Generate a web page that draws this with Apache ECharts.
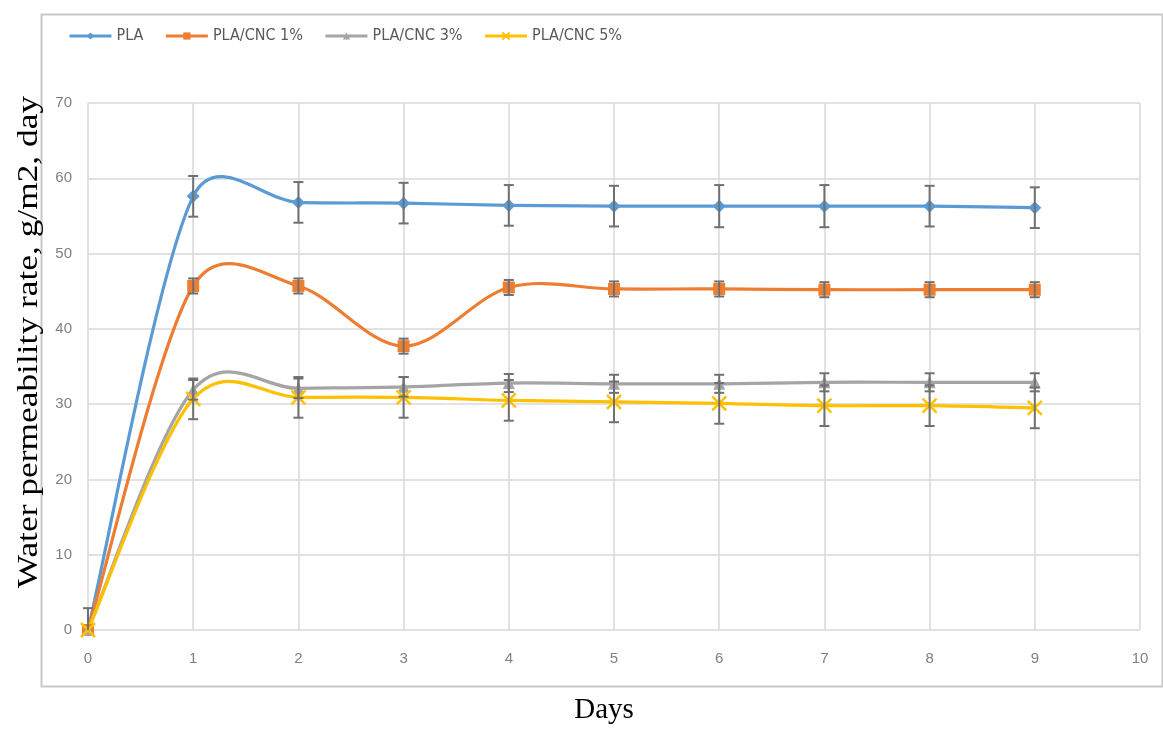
<!DOCTYPE html>
<html><head><meta charset="utf-8">
<script src="https://cdn.jsdelivr.net/npm/echarts@6/dist/echarts.min.js"></script>
<style>html,body{margin:0;padding:0;background:#fff}#c{width:1163px;height:730px}</style>
</head><body><div id="c"></div>
<script>
const days = [0,1,2,3,4,5,6,7,8,9];
const seriesNames = ['PLA','PLA/CNC 1%','PLA/CNC 3%','PLA/CNC 5%'];
const pla    = [0, 57.6, 56.8, 56.7, 56.4, 56.3, 56.3, 56.3, 56.3, 56.1];
const cnc1   = [0, 45.7, 45.7, 37.7, 45.5, 45.3, 45.3, 45.2, 45.2, 45.2];
const cnc3   = [0, 31.9, 32.1, 32.3, 32.8, 32.7, 32.7, 32.9, 32.9, 32.9];
const cnc5   = [0, 30.7, 30.9, 30.9, 30.5, 30.3, 30.1, 29.8, 29.8, 29.5];
const errPla  = [2.9, 2.7, 2.7, 2.7, 2.7, 2.7, 2.8, 2.8, 2.7, 2.7];
const errCnc1 = [0, 1.0, 1.0, 1.0, 1.0, 1.0, 1.0, 1.0, 1.0, 1.0];
const errCnc3 = [0, 1.3, 1.3, 1.3, 1.2, 1.2, 1.2, 1.2, 1.2, 1.2];
const errCnc5 = [0, 2.7, 2.7, 2.7, 2.7, 2.7, 2.7, 2.7, 2.7, 2.7];
const xTicks = [0,1,2,3,4,5,6,7,8,9,10];
const yTicks = [0,10,20,30,40,50,60,70];

const values = [pla, cnc1, cnc3, cnc5];
const errs = [errPla, errCnc1, errCnc3, errCnc5];
const colors = ['#5b9bd5','#ed7d31','#a5a5a5','#ffc000'];
const xPath = 'path://M0,0 L10,10 M10,0 L0,10';
const symbols = ['diamond','rect','triangle', xPath];
const symSizes = [13, 12, 12, 14];

// Excel-style smoothed segment from point idx-1 to idx
function smoothSeg(color) {
  return function (params, api) {
    const i = params.dataIndexInside;
    const n = params.dataInsideLength;
    if (i === 0) return null;
    const pt = k => { k = Math.max(0, Math.min(n - 1, k)); return api.coord([api.value(0, k), api.value(1, k)]); };
    const P0 = pt(i - 2), P1 = pt(i - 1), P2 = pt(i), P3 = pt(i + 1);
    const d12 = Math.hypot(P2[0]-P1[0], P2[1]-P1[1]);
    const tan = (A, B) => {
      let tx = (B[0]-A[0]) / 6, ty = (B[1]-A[1]) / 6;
      const L = Math.hypot(tx, ty);
      if (L > d12 / 2 && L > 0) { const s = (d12 / 2) / L; tx *= s; ty *= s; }
      return [tx, ty];
    };
    const T1 = tan(P0, P2), T2 = tan(P1, P3);
    return {
      type: 'bezierCurve',
      shape: {x1: P1[0], y1: P1[1], x2: P2[0], y2: P2[1],
              cpx1: P1[0] + T1[0], cpy1: P1[1] + T1[1],
              cpx2: P2[0] - T2[0], cpy2: P2[1] - T2[1]},
      style: {stroke: color, lineWidth: 3.2, fill: null}
    };
  };
}

const chart = echarts.init(document.getElementById('c'));
const series = [];
values.forEach((v, i) => {
  series.push({
    type: 'custom', name: seriesNames[i] + ' curve', z: 2 + i,
    data: days.map((d, k) => [d, v[k]]),
    renderItem: smoothSeg(colors[i])
  });
});
values.forEach((v, i) => {
  series.push({
    type: 'custom', name: seriesNames[i] + ' err', z: 20,
    data: days.map((d, k) => [d, Math.max(yTicks[0], v[k] - errs[i][k]), v[k] + errs[i][k], errs[i][k]]),
    renderItem: function (params, api) {
      if (!api.value(3)) return null;
      const x = api.value(0);
      const lo = api.coord([x, api.value(1)]);
      const hi = api.coord([x, api.value(2)]);
      const hw = 5;
      const st = {stroke: '#707070', lineWidth: 2};
      const ch = [
        {type: 'line', shape: {x1: lo[0], y1: lo[1], x2: hi[0], y2: hi[1]}, style: st},
        {type: 'line', shape: {x1: hi[0]-hw, y1: hi[1], x2: hi[0]+hw, y2: hi[1]}, style: st}
      ];
      if (api.value(1) > yTicks[0]) ch.push({type: 'line', shape: {x1: lo[0]-hw, y1: lo[1], x2: lo[0]+hw, y2: lo[1]}, style: st});
      return {type: 'group', children: ch};
    }
  });
});
values.forEach((v, i) => {
  series.push({
    name: seriesNames[i], type: 'line',
    data: days.map((d, k) => [d, v[k]]),
    symbol: symbols[i], symbolSize: symSizes[i], showSymbol: true,
    lineStyle: {color: colors[i], width: 3, opacity: 0},
    itemStyle: i === 3 ? {color: colors[i], borderColor: colors[i], borderWidth: 2.5} : {color: colors[i], borderWidth: 0},
    z: 10 + i
  });
});

chart.setOption({
  animation: false,
  color: colors,
  legend: {
    data: seriesNames,
    left: 63, top: 23, itemWidth: 42, itemHeight: 9, itemGap: 21,
    lineStyle: {opacity: 1, width: 3},
    textStyle: {color: '#595959', fontSize: 16, fontFamily: '"Liberation Sans Narrow", "DejaVu Sans Condensed", sans-serif'}
  },
  grid: {left: 88, right: 23, top: 103, bottom: 100},
  xAxis: {
    type: 'value', min: xTicks[0], max: xTicks[xTicks.length-1], interval: 1,
    name: 'Days', nameLocation: 'middle', nameGap: 66,
    nameTextStyle: {fontFamily: '"Liberation Serif", "Times New Roman", serif', fontSize: 29, color: '#000', padding: [0, 20, 0, 0]},
    axisLine: {show: false}, axisTick: {show: false},
    axisLabel: {color: '#808080', fontSize: 15, margin: 21},
    splitLine: {show: true, lineStyle: {color: '#d9d9d9', width: 1.5}}
  },
  yAxis: {
    type: 'value', min: yTicks[0], max: yTicks[yTicks.length-1], interval: 10,
    axisLine: {show: false}, axisTick: {show: false},
    axisLabel: {color: '#808080', fontSize: 15, margin: 16},
    splitLine: {show: true, lineStyle: {color: '#d9d9d9', width: 1.5}}
  },
  graphic: [
    {type: 'rect', left: 39, top: 12, shape: {width: 1121, height: 672}, style: {fill: 'none', stroke: '#c8c8c8', lineWidth: 2}, z: -1, silent: true},
    {type: 'text', x: 29, y: 342, rotation: Math.PI/2, scaleX: 1.22,
     style: {text: 'Water permeability rate, g/m2, day', font: '29px "Liberation Serif", serif', fill: '#000', align: 'center', verticalAlign: 'middle'}, z: 100}
  ],
  series: series
});
</script></body></html>
